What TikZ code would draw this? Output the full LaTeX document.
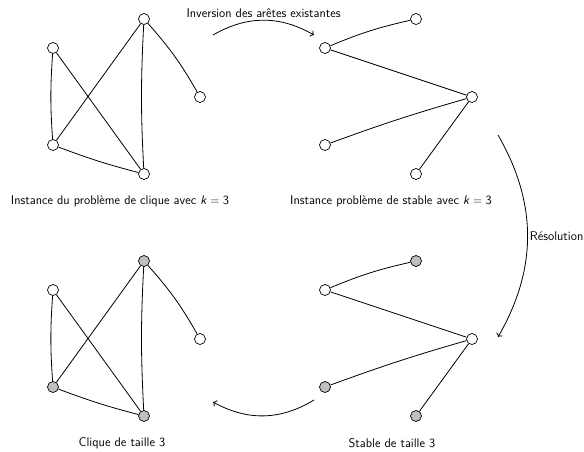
\documentclass[tikz,border=0pt]{standalone}
\usetikzlibrary{arrows.meta}
\begin{document}
\begin{tikzpicture}[x=1pt,y=-1pt,
  vtx/.style={circle,draw,line width=0.7pt,minimum size=11pt,inner sep=0pt,fill=white},
  sel/.style={vtx,fill=black!25},
  edge/.style={line width=0.8pt},
  trans/.style={->,line width=0.8pt},
  lbl/.style={font=\sffamily\fontsize{12.6}{14}\selectfont,inner sep=1pt}]
\useasboundingbox (0,0) rectangle (584,451);
% top-left graph
\node[vtx] (a1) at (53,48) {};
\node[vtx] (b1) at (144,19) {};
\node[vtx] (c1) at (200,97) {};
\node[vtx] (d1) at (53,145) {};
\node[vtx] (e1) at (144,174) {};
\draw[edge] (a1) to[bend right=4] (d1);
\draw[edge] (a1) -- (e1);
\draw[edge] (d1) -- (b1);
\draw[edge] (b1) to[bend right=3] (e1);
\draw[edge] (b1) to[bend left=6] (c1);
\draw[edge] (d1) to[bend right=3] (e1);
% top-right graph
\node[vtx] (a2) at (325,48) {};
\node[vtx] (b2) at (416,19) {};
\node[vtx] (c2) at (472,97) {};
\node[vtx] (d2) at (325,145) {};
\node[vtx] (e2) at (416,174) {};
\draw[edge] (a2) to[bend left=5] (b2);
\draw[edge] (a2) -- (c2);
\draw[edge] (d2) to[bend left=2] (c2);
\draw[edge] (c2) -- (e2);
% bottom-left graph
\node[vtx] (a3) at (53,290) {};
\node[sel] (b3) at (144,261) {};
\node[vtx] (c3) at (200,339) {};
\node[sel] (d3) at (53,387) {};
\node[sel] (e3) at (144,416) {};
\draw[edge] (a3) to[bend right=4] (d3);
\draw[edge] (a3) -- (e3);
\draw[edge] (d3) -- (b3);
\draw[edge] (b3) to[bend right=3] (e3);
\draw[edge] (b3) to[bend left=6] (c3);
\draw[edge] (d3) to[bend right=3] (e3);
% bottom-right graph
\node[vtx] (a4) at (325,290) {};
\node[sel] (b4) at (416,261) {};
\node[vtx] (c4) at (472,339) {};
\node[sel] (d4) at (325,387) {};
\node[sel] (e4) at (416,416) {};
\draw[edge] (a4) to[bend left=5] (b4);
\draw[edge] (a4) -- (c4);
\draw[edge] (d4) to[bend left=2] (c4);
\draw[edge] (c4) -- (e4);
% captions
\node[lbl] (t1) at (120,201) {Instance du problème de clique avec \textit{k}${}={}$3};
\node[lbl] (t2) at (391,201) {Instance problème de stable avec \textit{k}${}={}$3};
\node[lbl] (t3) at (122,443) {Clique de taille 3};
\node[lbl] (t4) at (392,443) {Stable de taille 3};
% transitions
\coordinate (p1) at (213,35);
\coordinate (p2) at (314,35);
\coordinate (q1) at (498,135);
\coordinate (q2) at (498,337);
\coordinate (r1) at (314,400);
\coordinate (r2) at (213,402);
\draw[trans] (p1) to[bend left=30] node[lbl,above=1pt] {Inversion des arêtes existantes} (p2);
\draw[trans] (q1) to[bend left=30] node[lbl,right=1pt] {Résolution} (q2);
\draw[trans] (r1) to[bend left=30] (r2);
\end{tikzpicture}
\end{document}
